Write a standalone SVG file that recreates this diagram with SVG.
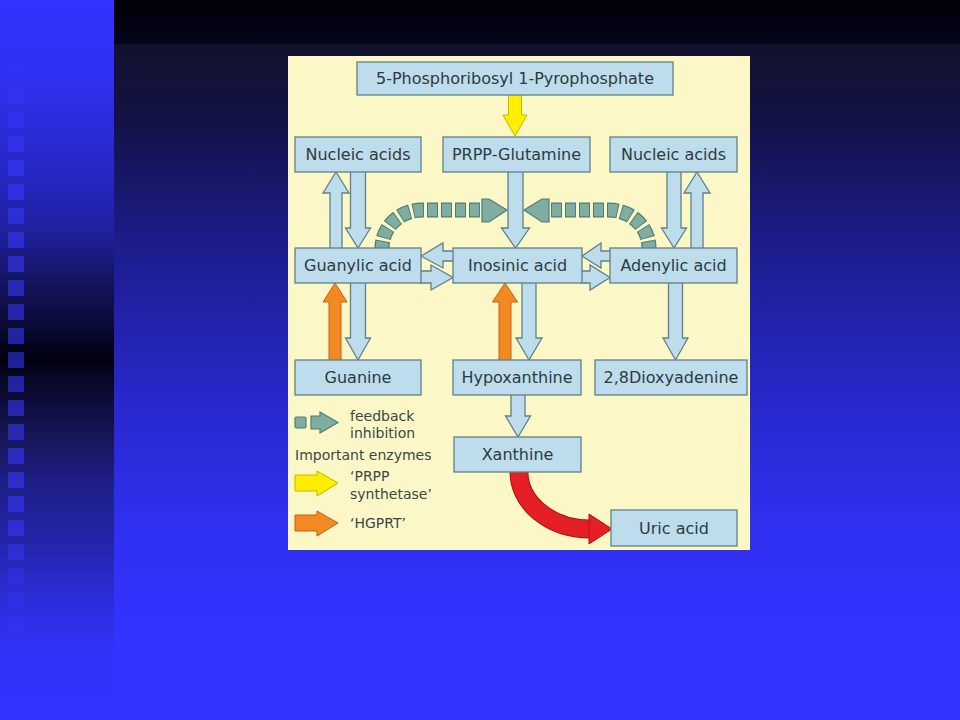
<svg xmlns="http://www.w3.org/2000/svg" width="960" height="720" viewBox="0 0 960 720">
<defs>
<linearGradient id="gMain" x1="0" y1="44" x2="0" y2="720" gradientUnits="userSpaceOnUse">
<stop offset="0" stop-color="#12122c"/>
<stop offset="0.11" stop-color="#121246"/>
<stop offset="0.29" stop-color="#1c1c8a"/>
<stop offset="0.53" stop-color="#2828cc"/>
<stop offset="0.71" stop-color="#3030f0"/>
<stop offset="0.86" stop-color="#3333ff"/>
<stop offset="1" stop-color="#3333ff"/>
</linearGradient>
<linearGradient id="gTop" x1="0" y1="0" x2="0" y2="44" gradientUnits="userSpaceOnUse">
<stop offset="0" stop-color="#000008"/>
<stop offset="1" stop-color="#04041c"/>
</linearGradient>
<linearGradient id="gLeft" x1="0" y1="0" x2="0" y2="720" gradientUnits="userSpaceOnUse">
<stop offset="0" stop-color="#3333ff"/>
<stop offset="0.11" stop-color="#3030f0"/>
<stop offset="0.22" stop-color="#2828cc"/>
<stop offset="0.32" stop-color="#2020a0"/>
<stop offset="0.39" stop-color="#141460"/>
<stop offset="0.445" stop-color="#0c0c3c"/>
<stop offset="0.5" stop-color="#000010"/>
<stop offset="0.53" stop-color="#08082a"/>
<stop offset="0.61" stop-color="#16165a"/>
<stop offset="0.67" stop-color="#1e1e88"/>
<stop offset="0.75" stop-color="#2424a8"/>
<stop offset="0.83" stop-color="#2c2cd8"/>
<stop offset="0.9" stop-color="#3232f8"/>
<stop offset="1" stop-color="#3333ff"/>
</linearGradient>
<style>
.sq{fill:#3a3aff}
.box{fill:#bddcec;stroke:#5f8088;stroke-width:1.3}
.ba{fill:#bddcec;stroke:#5f8088;stroke-width:1.3;stroke-linejoin:miter}
.org{fill:#f28a22;stroke:#c0601a;stroke-width:1}
.yel{fill:#ffee00;stroke:#c8b400;stroke-width:1}
.red{fill:#e42026;stroke:#b01018;stroke-width:1}
.fbo{fill:none;stroke:#4f7d74;stroke-width:15;stroke-dasharray:11 3}
.fbi{fill:none;stroke:#80ada1;stroke-width:12.5;stroke-dasharray:9 5;stroke-dashoffset:-1}
.fbh{fill:#80ada1;stroke:#4f7d74;stroke-width:1.2}
.lbl{font-family:"DejaVu Sans","Liberation Sans",sans-serif;font-size:16px;fill:#2e3b3d;text-anchor:middle}
.leg{font-family:"DejaVu Sans","Liberation Sans",sans-serif;font-size:14px;fill:#3a4848}
</style>
</defs>

<g id="background">
<rect x="0" y="0" width="960" height="720" fill="url(#gMain)"/>
<rect x="114" y="0" width="846" height="44" fill="url(#gTop)"/>
<rect x="0" y="0" width="114" height="720" fill="url(#gLeft)"/>
<rect class="sq" x="8" y="64" width="16" height="16" style="fill-opacity:0.15"/>
<rect class="sq" x="8" y="88" width="16" height="16" style="fill-opacity:0.3"/>
<rect class="sq" x="8" y="112" width="16" height="16" style="fill-opacity:0.4"/>
<rect class="sq" x="8" y="136" width="16" height="16" style="fill-opacity:0.5"/>
<rect class="sq" x="8" y="160" width="16" height="16" style="fill-opacity:0.55"/>
<rect class="sq" x="8" y="184" width="16" height="16" style="fill-opacity:0.55"/>
<rect class="sq" x="8" y="208" width="16" height="16" style="fill-opacity:0.55"/>
<rect class="sq" x="8" y="232" width="16" height="16" style="fill-opacity:0.55"/>
<rect class="sq" x="8" y="256" width="16" height="16" style="fill-opacity:0.55"/>
<rect class="sq" x="8" y="280" width="16" height="16" style="fill-opacity:0.55"/>
<rect class="sq" x="8" y="304" width="16" height="16" style="fill-opacity:0.55"/>
<rect class="sq" x="8" y="328" width="16" height="16" style="fill-opacity:0.55"/>
<rect class="sq" x="8" y="352" width="16" height="16" style="fill-opacity:0.55"/>
<rect class="sq" x="8" y="376" width="16" height="16" style="fill-opacity:0.55"/>
<rect class="sq" x="8" y="400" width="16" height="16" style="fill-opacity:0.55"/>
<rect class="sq" x="8" y="424" width="16" height="16" style="fill-opacity:0.55"/>
<rect class="sq" x="8" y="448" width="16" height="16" style="fill-opacity:0.55"/>
<rect class="sq" x="8" y="472" width="16" height="16" style="fill-opacity:0.55"/>
<rect class="sq" x="8" y="496" width="16" height="16" style="fill-opacity:0.55"/>
<rect class="sq" x="8" y="520" width="16" height="16" style="fill-opacity:0.5"/>
<rect class="sq" x="8" y="544" width="16" height="16" style="fill-opacity:0.45"/>
<rect class="sq" x="8" y="568" width="16" height="16" style="fill-opacity:0.35"/>
<rect class="sq" x="8" y="592" width="16" height="16" style="fill-opacity:0.25"/>
<rect class="sq" x="8" y="616" width="16" height="16" style="fill-opacity:0.15"/>
<rect class="sq" x="8" y="640" width="16" height="16" style="fill-opacity:0.1"/>
<rect class="sq" x="8" y="664" width="16" height="16" style="fill-opacity:0.05"/>
</g>

<g id="panel">
<rect x="288" y="56" width="462" height="494" fill="#fbf7c6"/>
</g>

<g id="connectors">
<polygon class="yel" points="508.5,94 521.5,94 521.5,115 527,115 515,136 503,115 508.5,115"/>
<polygon class="ba" points="350.5,171 365.5,171 365.5,228 370.5,228 358,248 345.5,228 350.5,228"/>
<polygon class="ba" points="330,249 342,249 342,193 349,193 336,172 323,193 330,193"/>
<polygon class="ba" points="667,171 681,171 681,228 686.5,228 674,248 661.5,228 667,228"/>
<polygon class="ba" points="691,249 703,249 703,193 710,193 697,172 684,193 691,193"/>
<polygon class="ba" points="508,171 523,171 523,228 529.5,228 515.5,248 501.5,228 508,228"/>
<polygon class="ba" points="350.5,282 365.5,282 365.5,338 370.5,338 358,360 345.5,338 350.5,338"/>
<polygon class="ba" points="522,282 536,282 536,338 542,338 529,360 516,338 522,338"/>
<polygon class="ba" points="668.5,282 682.5,282 682.5,338 688,338 675.5,360 663,338 668.5,338"/>
<polygon class="ba" points="511,394 525,394 525,416 530.5,416 518,437 505.5,416 511,416"/>
<polygon class="ba" points="421,256 443,243 443,251 454,251 454,261 443,261 443,268"/>
<polygon class="ba" points="420,271 431,271 431,265 453,277.5 431,290 431,283 420,283"/>
<polygon class="ba" points="582,256 601,243 601,251 611,251 611,261 601,261 601,268"/>
<polygon class="ba" points="581,271 590,271 590,265 610,277.5 590,290 590,283 581,283"/>
<polygon class="org" points="329,361 341,361 341,302 347,302 335,283 323,302 329,302"/>
<polygon class="org" points="499,361 511,361 511,302 517.5,302 505,283 492.5,302 499,302"/>
<path class="fbo" d="M 480 210 L 422 210 A 40 38 0 0 0 382 248"/>
<path class="fbi" d="M 480 210 L 422 210 A 40 38 0 0 0 382 248"/>
<polygon class="fbh" points="482,199 489,199 507,210 489,222 482,222"/>
<path class="fbo" d="M 551 210 L 609 210 A 40 38 0 0 1 649 248"/>
<path class="fbi" d="M 551 210 L 609 210 A 40 38 0 0 1 649 248"/>
<polygon class="fbh" points="549,199 542,199 524,210 542,222 549,222"/>
<path d="M 519 471 A 71 57 0 0 0 590 529" fill="none" stroke="#b01018" stroke-width="19"/>
<path d="M 519 471 A 71 57 0 0 0 591 529" fill="none" stroke="#e42026" stroke-width="17"/>
<polygon class="red" points="589,514 612,529 589,544"/>
</g>

<g id="node-prpp">
<rect class="box" x="357" y="62" width="316" height="33"/>
<text class="lbl" x="515" y="84">5-Phosphoribosyl 1-Pyrophosphate</text>
</g>
<g id="node-nucleic-left">
<rect class="box" x="295" y="137" width="126" height="35"/>
<text class="lbl" x="358" y="160">Nucleic acids</text>
</g>
<g id="node-prpp-glutamine">
<rect class="box" x="443" y="137" width="147" height="35"/>
<text class="lbl" x="516.5" y="160">PRPP-Glutamine</text>
</g>
<g id="node-nucleic-right">
<rect class="box" x="610" y="137" width="127" height="35"/>
<text class="lbl" x="673.5" y="160">Nucleic acids</text>
</g>
<g id="node-guanylic">
<rect class="box" x="295" y="248" width="126" height="35"/>
<text class="lbl" x="358" y="271">Guanylic acid</text>
</g>
<g id="node-inosinic">
<rect class="box" x="453" y="248" width="129" height="35"/>
<text class="lbl" x="517.5" y="271">Inosinic acid</text>
</g>
<g id="node-adenylic">
<rect class="box" x="610" y="248" width="127" height="35"/>
<text class="lbl" x="673.5" y="271">Adenylic acid</text>
</g>
<g id="node-guanine">
<rect class="box" x="295" y="360" width="126" height="35"/>
<text class="lbl" x="358" y="383">Guanine</text>
</g>
<g id="node-hypoxanthine">
<rect class="box" x="453" y="360" width="128" height="35"/>
<text class="lbl" x="517" y="383">Hypoxanthine</text>
</g>
<g id="node-dioxyadenine">
<rect class="box" x="595" y="360" width="152" height="35"/>
<text class="lbl" x="671" y="383">2,8Dioxyadenine</text>
</g>
<g id="node-xanthine">
<rect class="box" x="454" y="437" width="127" height="35"/>
<text class="lbl" x="517.5" y="460">Xanthine</text>
</g>
<g id="node-uric">
<rect class="box" x="611" y="510" width="126" height="36"/>
<text class="lbl" x="674" y="534">Uric acid</text>
</g>

<g id="legend">
<rect x="295" y="417" width="11" height="11" rx="1.5" class="fbh"/>
<polygon class="fbh" points="311,416 320,416 320,412 338,422.5 320,433 320,429 311,429"/>
<text class="leg" x="350" y="421">feedback</text>
<text class="leg" x="350" y="438">inhibition</text>
<text class="leg" x="295" y="460">Important enzymes</text>
<polygon class="yel" points="295,475 317,475 317,471 338,483 317,496 317,491 295,491"/>
<text class="leg" x="350" y="481">‘PRPP</text>
<text class="leg" x="350" y="499">synthetase’</text>
<polygon class="org" points="295,515 317,515 317,511 338,523 317,536 317,531 295,531"/>
<text class="leg" x="350" y="528">‘HGPRT’</text>
</g>
</svg>
